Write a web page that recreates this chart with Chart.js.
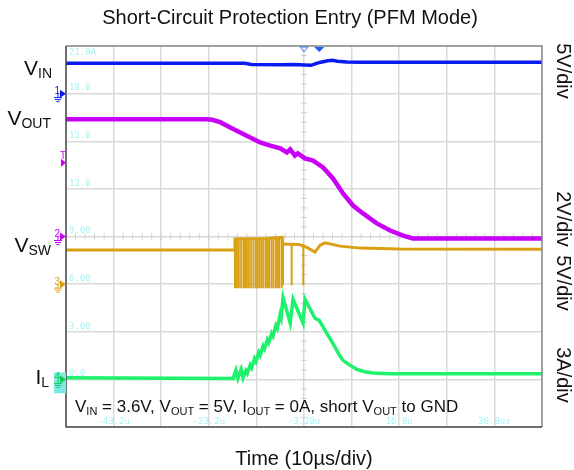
<!DOCTYPE html>
<html>
<head>
<meta charset="utf-8">
<script src="https://cdn.jsdelivr.net/npm/chart.js@4.4.1/dist/chart.umd.min.js"></script>
<style>
  html, body { margin: 0; padding: 0; background: #fff; }
  canvas { display: block; }
</style>
</head>
<body>
<canvas id="scope" width="574" height="470"></canvas>
<script>
// time axis: microseconds from screen centre, 10us/div
const vinTime = [-50, -12.5, -11, -5, -2, 0, 1.5, 2.5, 3.5, 5, 6, 7, 9, 12, 50];
const vinVolts = [3.18, 3.18, 3.05, 3.02, 3.05, 3.0, 2.97, 3.15, 3.3, 3.45, 3.5, 3.4, 3.33, 3.3, 3.29];

const voutTime = [-50, -20.6, -19.3, -17.6, -15.5, -13.4, -11.3, -9.2, -7.1, -5.0, -3.6, -2.9, -1.9, -1.3, 0.2,
  1.9, 4.0, 6.1, 8.2, 10.3, 12.4, 15.3, 18.1, 20.8, 22.9, 50];
const voutVolts = [4.92, 4.92, 4.9, 4.8, 4.58, 4.37, 4.16, 3.95, 3.82, 3.7, 3.53, 3.66, 3.4, 3.49, 3.28,
  3.19, 2.9, 2.44, 1.81, 1.3, 0.97, 0.55, 0.25, 0.04, -0.08, -0.08];

const vswTime = [-50, -14.7, -14.5, -8, -4.6, -4.4, -1, 0.6, 2.3, 3.4, 4.4, 7.6, 11.8, 20, 50];
const vswVolts = [3.57, 3.57, 4.75, 4.8, 4.9, 4.2, 4.15, 3.85, 3.36, 4.1, 4.34, 3.99, 3.78, 3.68, 3.65];
// switching edges during PFM bursts
const vswBurstTime = [-14.5, -14.1, -13.7, -13.2, -12.7, -12.4, -12.0, -11.6, -11.1, -10.6, -10.1, -9.7, -9.3,
  -8.9, -8.5, -8.0, -7.6, -7.3, -6.8, -6.4, -5.9, -5.5, -5.2, -4.7];
const vswLateTime = [-4.4, -2.6, -0.15];

const ilTime = [-50, -14.9, -14.3, -13.9, -13.2, -12.8, -12.2, -11.9, -11.3, -11.0, -10.4, -10.1, -9.5, -9.2,
  -8.6, -8.3, -7.7, -7.4, -6.8, -6.5, -5.9, -5.6, -5.0, -4.8, -4.4, -2.9, -2.3, -0.2, 0.2, 2.3, 3.2, 4.8,
  6.1, 7.6, 8.2, 9.7, 11.1, 12.8, 14.5, 18.1, 50];
const ilAmps = [0.1, 0.06, 0.57, 0.06, 0.63, 0.1, 0.55, 0.38, 0.9, 0.72, 1.3, 1.12, 1.7, 1.52,
  2.1, 1.92, 2.5, 2.32, 2.9, 2.72, 3.4, 3.22, 4.1, 3.9, 5.15, 3.55, 5.05, 3.55, 5.05, 3.85, 3.72, 2.9,
  2.25, 1.45, 1.2, 0.88, 0.63, 0.48, 0.4, 0.36, 0.35];

// scope grid labels
const levelLabels = ['21.0A', '18.0', '15.0', '12.0', '9.00', '6.00', '3.00', '0.0'];
const levelDivs = [8, 7, 6, 5, 4, 3, 2, 1];
const timeLabels = ['-43.2u', '-23.2u', '-3.20u', '16.8u', '36.8us'];
const timeLabelAt = [-40, -20, 0, 20, 40];

const channels = {
  vin:  { ground: 7, perDiv: 5, color: '#0a1af2', tag: '1' },
  vout: { ground: 4, perDiv: 2, color: '#c800f5', tag: '2' },
  vsw:  { ground: 3, perDiv: 5, color: '#d9a014', tag: '3' },
  il:   { ground: 1, perDiv: 3, color: '#1ef26c', tag: '4' }
};

const FONT = '"Liberation Sans", Arial, sans-serif';

function toDivs(ch, times, values) {
  return times.map((t, i) => ({ x: t, y: ch.ground + values[i] / ch.perDiv }));
}
function pulses(ch, times, lo, hi) {
  return times.map(t => ({ x: t, y: [ch.ground + lo / ch.perDiv, ch.ground + hi / ch.perDiv] }));
}

function subText(ctx, parts, x, y, size, subSize, align) {
  let w = 0;
  parts.forEach(p => {
    ctx.font = (p[1] ? subSize : size) + 'px ' + FONT;
    w += ctx.measureText(p[0]).width;
  });
  let cx = align === 'right' ? x - w : x;
  ctx.textAlign = 'left';
  ctx.textBaseline = 'alphabetic';
  parts.forEach(p => {
    ctx.font = (p[1] ? subSize : size) + 'px ' + FONT;
    ctx.fillText(p[0], cx, p[1] ? y + 3 : y);
    cx += ctx.measureText(p[0]).width;
  });
}

function groundMark(ctx, label, color, y, x0) {
  ctx.fillStyle = color;
  ctx.strokeStyle = color;
  ctx.font = '10px ' + FONT;
  ctx.textAlign = 'right';
  ctx.textBaseline = 'middle';
  ctx.fillText(label, x0 - 6, y - 2);
  ctx.beginPath();
  ctx.moveTo(x0 - 6, y - 4);
  ctx.lineTo(x0, y);
  ctx.lineTo(x0 - 6, y + 4);
  ctx.closePath();
  ctx.fill();
  ctx.lineWidth = 1;
  ctx.beginPath();
  ctx.moveTo(x0 - 8, y); ctx.lineTo(x0 - 8, y + 4);
  ctx.moveTo(x0 - 12, y + 4); ctx.lineTo(x0 - 4, y + 4);
  ctx.moveTo(x0 - 11, y + 6); ctx.lineTo(x0 - 5, y + 6);
  ctx.moveTo(x0 - 9.5, y + 8); ctx.lineTo(x0 - 6.5, y + 8);
  ctx.stroke();
}

const scopeDecor = {
  id: 'scopeDecor',
  beforeDatasetsDraw(chart) {
    const { ctx, chartArea: a, scales: { x, y } } = chart;
    ctx.save();
    ctx.strokeStyle = '#cfcfcf';
    ctx.lineWidth = 1;
    const cx = x.getPixelForValue(0), cy = y.getPixelForValue(4);
    const dy = (y.getPixelForValue(0) - y.getPixelForValue(1)) / 5;
    const dx = (x.getPixelForValue(10) - x.getPixelForValue(0)) / 5;
    ctx.beginPath();
    for (let py = a.top; py <= a.bottom + 0.5; py += dy) { ctx.moveTo(cx - 3, py); ctx.lineTo(cx + 3, py); }
    for (let px = a.left; px <= a.right + 0.5; px += dx) { ctx.moveTo(px, cy - 3); ctx.lineTo(px, cy + 3); }
    ctx.stroke();

    ctx.fillStyle = '#a6f2f2';
    ctx.font = '9px "DejaVu Sans Mono", monospace';
    ctx.textAlign = 'left';
    levelLabels.forEach((s, i) => {
      const py = y.getPixelForValue(levelDivs[i]);
      if (levelDivs[i] === 8) { ctx.textBaseline = 'top'; ctx.fillText(s, a.left + 3, py + 2); }
      else { ctx.textBaseline = 'bottom'; ctx.fillText(s, a.left + 3, py - 1); }
    });
    ctx.textAlign = 'center';
    ctx.textBaseline = 'bottom';
    timeLabels.forEach((s, i) => ctx.fillText(s, x.getPixelForValue(timeLabelAt[i]), a.bottom - 1));
    ctx.restore();
  },
  afterDraw(chart) {
    const { ctx, chartArea: a, scales: { x, y } } = chart;
    ctx.save();
    // frame
    ctx.lineWidth = 1.5;
    ctx.strokeStyle = '#8a8a8a';
    ctx.beginPath();
    ctx.moveTo(a.left, a.top); ctx.lineTo(a.right, a.top); ctx.lineTo(a.right, a.bottom);
    ctx.stroke();
    ctx.strokeStyle = '#4a4a4a';
    ctx.beginPath();
    ctx.moveTo(a.left, a.top); ctx.lineTo(a.left, a.bottom); ctx.lineTo(a.right, a.bottom);
    ctx.stroke();

    // trigger markers on top edge
    const t0 = x.getPixelForValue(0), t1 = x.getPixelForValue(3.2);
    ctx.strokeStyle = '#3a78e8';
    ctx.fillStyle = '#1a5ef0';
    ctx.lineWidth = 1;
    ctx.beginPath();
    ctx.moveTo(t0 - 4, a.top + 1); ctx.lineTo(t0 + 4, a.top + 1); ctx.lineTo(t0, a.top + 6); ctx.closePath();
    ctx.stroke();
    ctx.beginPath();
    ctx.moveTo(t1 - 5, a.top + 1); ctx.lineTo(t1 + 5, a.top + 1); ctx.lineTo(t1, a.top + 6); ctx.closePath();
    ctx.fill();

    // channel ground markers
    const il = y.getPixelForValue(channels.il.ground);
    ctx.fillStyle = '#7fe8e2';
    ctx.fillRect(a.left - 12, il - 7, 12, 21);
    groundMark(ctx, channels.vin.tag, channels.vin.color, y.getPixelForValue(channels.vin.ground), a.left);
    groundMark(ctx, channels.vout.tag, channels.vout.color, y.getPixelForValue(channels.vout.ground), a.left);
    groundMark(ctx, channels.vsw.tag, channels.vsw.color, y.getPixelForValue(channels.vsw.ground), a.left);
    groundMark(ctx, channels.il.tag, '#12c85a', il, a.left);
    // trigger level
    const tl = y.getPixelForValue(5.55);
    ctx.fillStyle = channels.vout.color;
    ctx.font = '10px ' + FONT;
    ctx.textAlign = 'center';
    ctx.textBaseline = 'bottom';
    ctx.fillText('T', a.left - 3, tl - 1);
    ctx.beginPath();
    ctx.moveTo(a.left - 5, tl - 4); ctx.lineTo(a.left, tl); ctx.lineTo(a.left - 5, tl + 4); ctx.closePath();
    ctx.fill();

    // texts
    ctx.fillStyle = '#111';
    ctx.font = '20px ' + FONT;
    ctx.textAlign = 'center';
    ctx.textBaseline = 'alphabetic';
    ctx.fillText('Short-Circuit Protection Entry (PFM Mode)', 290, 24);
    ctx.fillText('Time (10\u00b5s/div)', (a.left + a.right) / 2, 465);

    subText(ctx, [['V', 0], ['IN', 1]], 52, 75, 21, 14, 'right');
    subText(ctx, [['V', 0], ['OUT', 1]], 51, 125, 21, 14, 'right');
    subText(ctx, [['V', 0], ['SW', 1]], 51, 252, 21, 14, 'right');
    subText(ctx, [['I', 0], ['L', 1]], 49, 384, 21, 14, 'right');

    subText(ctx, [['V', 0], ['IN', 1], [' = 3.6V, V', 0], ['OUT', 1], [' = 5V, I', 0], ['OUT', 1],
      [' = 0A, short V', 0], ['OUT', 1], [' to GND', 0]], a.left + 9, 412, 17, 11, 'left');

    const side = [['5V/div', 71], ['2V/div', 219], ['5V/div', 283], ['3A/div', 375]];
    ctx.font = '20px ' + FONT;
    ctx.textAlign = 'center';
    ctx.textBaseline = 'middle';
    side.forEach(s => {
      ctx.save();
      ctx.translate(563, s[1]);
      ctx.rotate(Math.PI / 2);
      ctx.fillText(s[0], 0, 0);
      ctx.restore();
    });
    ctx.restore();
  }
};

const line = (ch, data, width) => ({
  type: 'line', data, borderColor: ch.color, backgroundColor: ch.color,
  borderWidth: width, pointRadius: 0, tension: 0, fill: false
});
const bar = (ch, data) => ({
  type: 'bar', data, backgroundColor: ch.color, borderWidth: 0, barThickness: 1.3, grouped: false
});

new Chart(document.getElementById('scope'), {
  data: {
    datasets: [
      line(channels.vin, toDivs(channels.vin, vinTime, vinVolts), 3.5),
      line(channels.vout, toDivs(channels.vout, voutTime, voutVolts), 4.5),
      bar(channels.vsw, pulses(channels.vsw, vswBurstTime, -0.4, 4.8)),
      bar(channels.vsw, pulses(channels.vsw, vswLateTime, -0.1, 4.2)),
      line(channels.vsw, toDivs(channels.vsw, vswTime, vswVolts), 3),
      line(channels.il, toDivs(channels.il, ilTime, ilAmps), 3.5)
    ]
  },
  options: {
    responsive: false,
    animation: false,
    devicePixelRatio: 1,
    layout: { padding: { left: 66, right: 32, top: 46, bottom: 43 } },
    plugins: { legend: { display: false }, tooltip: { enabled: false } },
    scales: {
      x: {
        type: 'linear', min: -50, max: 50, offset: false,
        ticks: { display: false, stepSize: 10 },
        grid: { color: '#d9d9d9', lineWidth: 1.5, drawTicks: false, offset: false },
        border: { display: false }
      },
      y: {
        type: 'linear', min: 0, max: 8,
        ticks: { display: false, stepSize: 1 },
        grid: { color: '#d9d9d9', lineWidth: 1.5, drawTicks: false },
        border: { display: false }
      }
    }
  },
  plugins: [scopeDecor]
});
</script>
</body>
</html>
